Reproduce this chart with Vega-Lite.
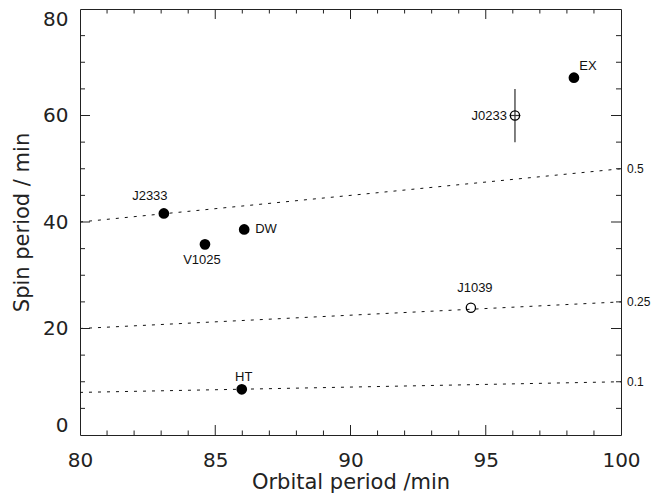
{
  "$schema": "https://vega.github.io/schema/vega-lite/v6.json",
  "width": 541,
  "height": 426,
  "autosize": {"type": "none"},
  "padding": {"left": 80, "top": 9, "right": 46, "bottom": 64},
  "background": "white",
  "config": {
    "view": {"stroke": "#222", "strokeWidth": 1},
    "axis": {"grid": false, "domain": false, "ticks": false}
  },
  "datasets": {
    "ratios": [
      {"ratio": "0.5", "orb": 80, "spin": 40},
      {"ratio": "0.5", "orb": 100, "spin": 50},
      {"ratio": "0.25", "orb": 80, "spin": 20},
      {"ratio": "0.25", "orb": 100, "spin": 25},
      {"ratio": "0.1", "orb": 80, "spin": 8},
      {"ratio": "0.1", "orb": 100, "spin": 10}
    ],
    "points": [
      {"name": "J2333", "orb": 83.1, "spin": 41.6, "kind": "filled"},
      {"name": "V1025", "orb": 84.62, "spin": 35.8, "kind": "filled"},
      {"name": "DW", "orb": 86.07, "spin": 38.6, "kind": "filled"},
      {"name": "HT", "orb": 85.98, "spin": 8.58, "kind": "filled"},
      {"name": "EX", "orb": 98.26, "spin": 67.1, "kind": "filled"},
      {"name": "J1039", "orb": 94.45, "spin": 23.9, "kind": "open"},
      {"name": "J0233", "orb": 96.08, "spin": 60.0, "kind": "open", "spin_lo": 55, "spin_hi": 65, "orb_lo": 95.88, "orb_hi": 96.28}
    ],
    "xticks": [
      {"pos": 81, "level": "minor"}, {"pos": 82, "level": "minor"}, {"pos": 83, "level": "minor"}, {"pos": 84, "level": "minor"},
      {"pos": 85, "level": "major"},
      {"pos": 86, "level": "minor"}, {"pos": 87, "level": "minor"}, {"pos": 88, "level": "minor"}, {"pos": 89, "level": "minor"},
      {"pos": 90, "level": "major"},
      {"pos": 91, "level": "minor"}, {"pos": 92, "level": "minor"}, {"pos": 93, "level": "minor"}, {"pos": 94, "level": "minor"},
      {"pos": 95, "level": "major"},
      {"pos": 96, "level": "minor"}, {"pos": 97, "level": "minor"}, {"pos": 98, "level": "minor"}, {"pos": 99, "level": "minor"}
    ],
    "yticks": [
      {"pos": 5, "level": "minor"}, {"pos": 10, "level": "minor"}, {"pos": 15, "level": "minor"},
      {"pos": 20, "level": "major"},
      {"pos": 25, "level": "minor"}, {"pos": 30, "level": "minor"}, {"pos": 35, "level": "minor"},
      {"pos": 40, "level": "major"},
      {"pos": 45, "level": "minor"}, {"pos": 50, "level": "minor"}, {"pos": 55, "level": "minor"},
      {"pos": 60, "level": "major"},
      {"pos": 65, "level": "minor"}, {"pos": 70, "level": "minor"}, {"pos": 75, "level": "minor"}
    ]
  },
  "resolve": {"axis": {"x": "independent", "y": "independent"}},
  "layer": [
    {
      "data": {"name": "ratios"},
      "mark": {"type": "line", "strokeDash": [3, 6], "color": "#111", "strokeWidth": 1},
      "encoding": {
        "x": {"field": "orb", "type": "quantitative",
          "scale": {"domain": [80, 100], "nice": false, "zero": false},
          "axis": {"orient": "bottom", "values": [80, 85, 90, 95, 100],
            "labelFont": "DejaVu Sans", "labelFontSize": 20, "labelColor": "#222", "labelPadding": 15.5,
            "labelFlush": false, "labelOverlap": false,
            "title": "Orbital period /min", "titleFont": "DejaVu Sans", "titleFontSize": 21,
            "titleFontWeight": "normal", "titleColor": "#222", "titleY": 53, "titleBaseline": "alphabetic"}},
        "y": {"field": "spin", "type": "quantitative",
          "scale": {"domain": [0, 80], "nice": false},
          "axis": {"orient": "left", "values": [0, 20, 40, 60, 80],
            "labelFont": "DejaVu Sans", "labelFontSize": 20, "labelColor": "#222", "labelPadding": 12,
            "labelFlush": true, "labelOverlap": false,
            "title": "Spin period / min", "titleFont": "DejaVu Sans", "titleFontSize": 21,
            "titleFontWeight": "normal", "titleColor": "#222", "titleX": -52, "titleBaseline": "alphabetic"}},
        "detail": {"field": "ratio"}
      }
    },
    {
      "data": {"name": "xticks"},
      "transform": [{"filter": "datum.level == 'major'"}],
      "mark": {"type": "tick", "orient": "vertical", "size": 10, "yOffset": -5, "thickness": 1, "color": "#222", "opacity": 1},
      "encoding": {
        "x": {"field": "pos", "type": "quantitative", "scale": {"domain": [80, 100], "nice": false, "zero": false}, "axis": null},
        "y": {"datum": 0, "type": "quantitative", "scale": {"domain": [0, 80], "nice": false}, "axis": null}
      }
    },
    {
      "data": {"name": "xticks"},
      "transform": [{"filter": "datum.level == 'minor'"}],
      "mark": {"type": "tick", "orient": "vertical", "size": 4.5, "yOffset": -2.25, "thickness": 1, "color": "#222", "opacity": 1},
      "encoding": {
        "x": {"field": "pos", "type": "quantitative", "scale": {"domain": [80, 100], "nice": false, "zero": false}, "axis": null},
        "y": {"datum": 0, "type": "quantitative", "scale": {"domain": [0, 80], "nice": false}, "axis": null}
      }
    },
    {
      "data": {"name": "xticks"},
      "transform": [{"filter": "datum.level == 'major'"}],
      "mark": {"type": "tick", "orient": "vertical", "size": 10, "yOffset": 5, "thickness": 1, "color": "#222", "opacity": 1},
      "encoding": {
        "x": {"field": "pos", "type": "quantitative", "scale": {"domain": [80, 100], "nice": false, "zero": false}, "axis": null},
        "y": {"datum": 80, "type": "quantitative", "scale": {"domain": [0, 80], "nice": false}, "axis": null}
      }
    },
    {
      "data": {"name": "xticks"},
      "transform": [{"filter": "datum.level == 'minor'"}],
      "mark": {"type": "tick", "orient": "vertical", "size": 4.5, "yOffset": 2.25, "thickness": 1, "color": "#222", "opacity": 1},
      "encoding": {
        "x": {"field": "pos", "type": "quantitative", "scale": {"domain": [80, 100], "nice": false, "zero": false}, "axis": null},
        "y": {"datum": 80, "type": "quantitative", "scale": {"domain": [0, 80], "nice": false}, "axis": null}
      }
    },
    {
      "data": {"name": "yticks"},
      "transform": [{"filter": "datum.level == 'major'"}],
      "mark": {"type": "tick", "orient": "horizontal", "size": 10, "xOffset": 5, "thickness": 1, "color": "#222", "opacity": 1},
      "encoding": {
        "y": {"field": "pos", "type": "quantitative", "scale": {"domain": [0, 80], "nice": false}, "axis": null},
        "x": {"datum": 80, "type": "quantitative", "scale": {"domain": [80, 100], "nice": false, "zero": false}, "axis": null}
      }
    },
    {
      "data": {"name": "yticks"},
      "transform": [{"filter": "datum.level == 'minor'"}],
      "mark": {"type": "tick", "orient": "horizontal", "size": 5, "xOffset": 2.5, "thickness": 1, "color": "#222", "opacity": 1},
      "encoding": {
        "y": {"field": "pos", "type": "quantitative", "scale": {"domain": [0, 80], "nice": false}, "axis": null},
        "x": {"datum": 80, "type": "quantitative", "scale": {"domain": [80, 100], "nice": false, "zero": false}, "axis": null}
      }
    },
    {
      "data": {"name": "yticks"},
      "transform": [{"filter": "datum.level == 'major'"}],
      "mark": {"type": "tick", "orient": "horizontal", "size": 10, "xOffset": -5, "thickness": 1, "color": "#222", "opacity": 1},
      "encoding": {
        "y": {"field": "pos", "type": "quantitative", "scale": {"domain": [0, 80], "nice": false}, "axis": null},
        "x": {"datum": 100, "type": "quantitative", "scale": {"domain": [80, 100], "nice": false, "zero": false}, "axis": null}
      }
    },
    {
      "data": {"name": "yticks"},
      "transform": [{"filter": "datum.level == 'minor'"}],
      "mark": {"type": "tick", "orient": "horizontal", "size": 5, "xOffset": -2.5, "thickness": 1, "color": "#222", "opacity": 1},
      "encoding": {
        "y": {"field": "pos", "type": "quantitative", "scale": {"domain": [0, 80], "nice": false}, "axis": null},
        "x": {"datum": 100, "type": "quantitative", "scale": {"domain": [80, 100], "nice": false, "zero": false}, "axis": null}
      }
    },
    {
      "data": {"name": "points"},
      "transform": [{"filter": "isValid(datum.spin_lo)"}],
      "mark": {"type": "rule", "color": "#555", "strokeWidth": 1.5},
      "encoding": {
        "x": {"field": "orb", "type": "quantitative", "scale": {"domain": [80, 100], "nice": false, "zero": false}, "axis": null},
        "y": {"field": "spin_lo", "type": "quantitative", "scale": {"domain": [0, 80], "nice": false}, "axis": null},
        "y2": {"field": "spin_hi"}
      }
    },
    {
      "data": {"name": "points"},
      "transform": [{"filter": "isValid(datum.orb_lo)"}],
      "mark": {"type": "rule", "color": "#333", "strokeWidth": 1.2},
      "encoding": {
        "x": {"field": "orb_lo", "type": "quantitative", "scale": {"domain": [80, 100], "nice": false, "zero": false}, "axis": null},
        "x2": {"field": "orb_hi"},
        "y": {"field": "spin", "type": "quantitative", "scale": {"domain": [0, 80], "nice": false}, "axis": null}
      }
    },
    {
      "data": {"name": "points"},
      "transform": [{"filter": "datum.kind == 'filled'"}],
      "mark": {"type": "circle", "color": "black", "opacity": 1, "size": 115},
      "encoding": {
        "x": {"field": "orb", "type": "quantitative", "scale": {"domain": [80, 100], "nice": false, "zero": false}, "axis": null},
        "y": {"field": "spin", "type": "quantitative", "scale": {"domain": [0, 80], "nice": false}, "axis": null}
      }
    },
    {
      "data": {"name": "points"},
      "transform": [{"filter": "datum.kind == 'open'"}],
      "mark": {"type": "point", "shape": "circle", "filled": false, "color": "black", "opacity": 1, "strokeWidth": 1.3, "size": 85},
      "encoding": {
        "x": {"field": "orb", "type": "quantitative", "scale": {"domain": [80, 100], "nice": false, "zero": false}, "axis": null},
        "y": {"field": "spin", "type": "quantitative", "scale": {"domain": [0, 80], "nice": false}, "axis": null}
      }
    },
    {
      "data": {"name": "ratios"},
      "transform": [{"filter": "datum.orb == 100"}],
      "mark": {"type": "text", "align": "left", "baseline": "middle", "dx": 6, "font": "Liberation Sans", "fontSize": 12, "color": "#111"},
      "encoding": {
        "x": {"field": "orb", "type": "quantitative", "scale": {"domain": [80, 100], "nice": false, "zero": false}, "axis": null},
        "y": {"field": "spin", "type": "quantitative", "scale": {"domain": [0, 80], "nice": false}, "axis": null},
        "text": {"field": "ratio"}
      }
    },
    {
      "data": {"name": "points"},
      "transform": [{"filter": "datum.name == 'J2333'"}],
      "mark": {"type": "text", "align": "center", "baseline": "middle", "dx": -14, "dy": -17, "font": "Liberation Sans", "fontSize": 13, "color": "#111"},
      "encoding": {
        "x": {"field": "orb", "type": "quantitative", "scale": {"domain": [80, 100], "nice": false, "zero": false}, "axis": null},
        "y": {"field": "spin", "type": "quantitative", "scale": {"domain": [0, 80], "nice": false}, "axis": null},
        "text": {"field": "name"}
      }
    },
    {
      "data": {"name": "points"},
      "transform": [{"filter": "datum.name == 'V1025'"}],
      "mark": {"type": "text", "align": "center", "baseline": "middle", "dx": -3, "dy": 16, "font": "Liberation Sans", "fontSize": 13, "color": "#111"},
      "encoding": {
        "x": {"field": "orb", "type": "quantitative", "scale": {"domain": [80, 100], "nice": false, "zero": false}, "axis": null},
        "y": {"field": "spin", "type": "quantitative", "scale": {"domain": [0, 80], "nice": false}, "axis": null},
        "text": {"field": "name"}
      }
    },
    {
      "data": {"name": "points"},
      "transform": [{"filter": "datum.name == 'DW'"}],
      "mark": {"type": "text", "align": "left", "baseline": "middle", "dx": 11, "dy": 0, "font": "Liberation Sans", "fontSize": 13, "color": "#111"},
      "encoding": {
        "x": {"field": "orb", "type": "quantitative", "scale": {"domain": [80, 100], "nice": false, "zero": false}, "axis": null},
        "y": {"field": "spin", "type": "quantitative", "scale": {"domain": [0, 80], "nice": false}, "axis": null},
        "text": {"field": "name"}
      }
    },
    {
      "data": {"name": "points"},
      "transform": [{"filter": "datum.name == 'HT'"}],
      "mark": {"type": "text", "align": "center", "baseline": "middle", "dx": 2, "dy": -12, "font": "Liberation Sans", "fontSize": 13, "color": "#111"},
      "encoding": {
        "x": {"field": "orb", "type": "quantitative", "scale": {"domain": [80, 100], "nice": false, "zero": false}, "axis": null},
        "y": {"field": "spin", "type": "quantitative", "scale": {"domain": [0, 80], "nice": false}, "axis": null},
        "text": {"field": "name"}
      }
    },
    {
      "data": {"name": "points"},
      "transform": [{"filter": "datum.name == 'J1039'"}],
      "mark": {"type": "text", "align": "center", "baseline": "middle", "dx": 4, "dy": -20, "font": "Liberation Sans", "fontSize": 13, "color": "#111"},
      "encoding": {
        "x": {"field": "orb", "type": "quantitative", "scale": {"domain": [80, 100], "nice": false, "zero": false}, "axis": null},
        "y": {"field": "spin", "type": "quantitative", "scale": {"domain": [0, 80], "nice": false}, "axis": null},
        "text": {"field": "name"}
      }
    },
    {
      "data": {"name": "points"},
      "transform": [{"filter": "datum.name == 'J0233'"}],
      "mark": {"type": "text", "align": "right", "baseline": "middle", "dx": -8, "dy": 0, "font": "Liberation Sans", "fontSize": 13, "color": "#111"},
      "encoding": {
        "x": {"field": "orb", "type": "quantitative", "scale": {"domain": [80, 100], "nice": false, "zero": false}, "axis": null},
        "y": {"field": "spin", "type": "quantitative", "scale": {"domain": [0, 80], "nice": false}, "axis": null},
        "text": {"field": "name"}
      }
    },
    {
      "data": {"name": "points"},
      "transform": [{"filter": "datum.name == 'EX'"}],
      "mark": {"type": "text", "align": "center", "baseline": "middle", "dx": 14, "dy": -12, "font": "Liberation Sans", "fontSize": 13, "color": "#111"},
      "encoding": {
        "x": {"field": "orb", "type": "quantitative", "scale": {"domain": [80, 100], "nice": false, "zero": false}, "axis": null},
        "y": {"field": "spin", "type": "quantitative", "scale": {"domain": [0, 80], "nice": false}, "axis": null},
        "text": {"field": "name"}
      }
    }
  ]
}
